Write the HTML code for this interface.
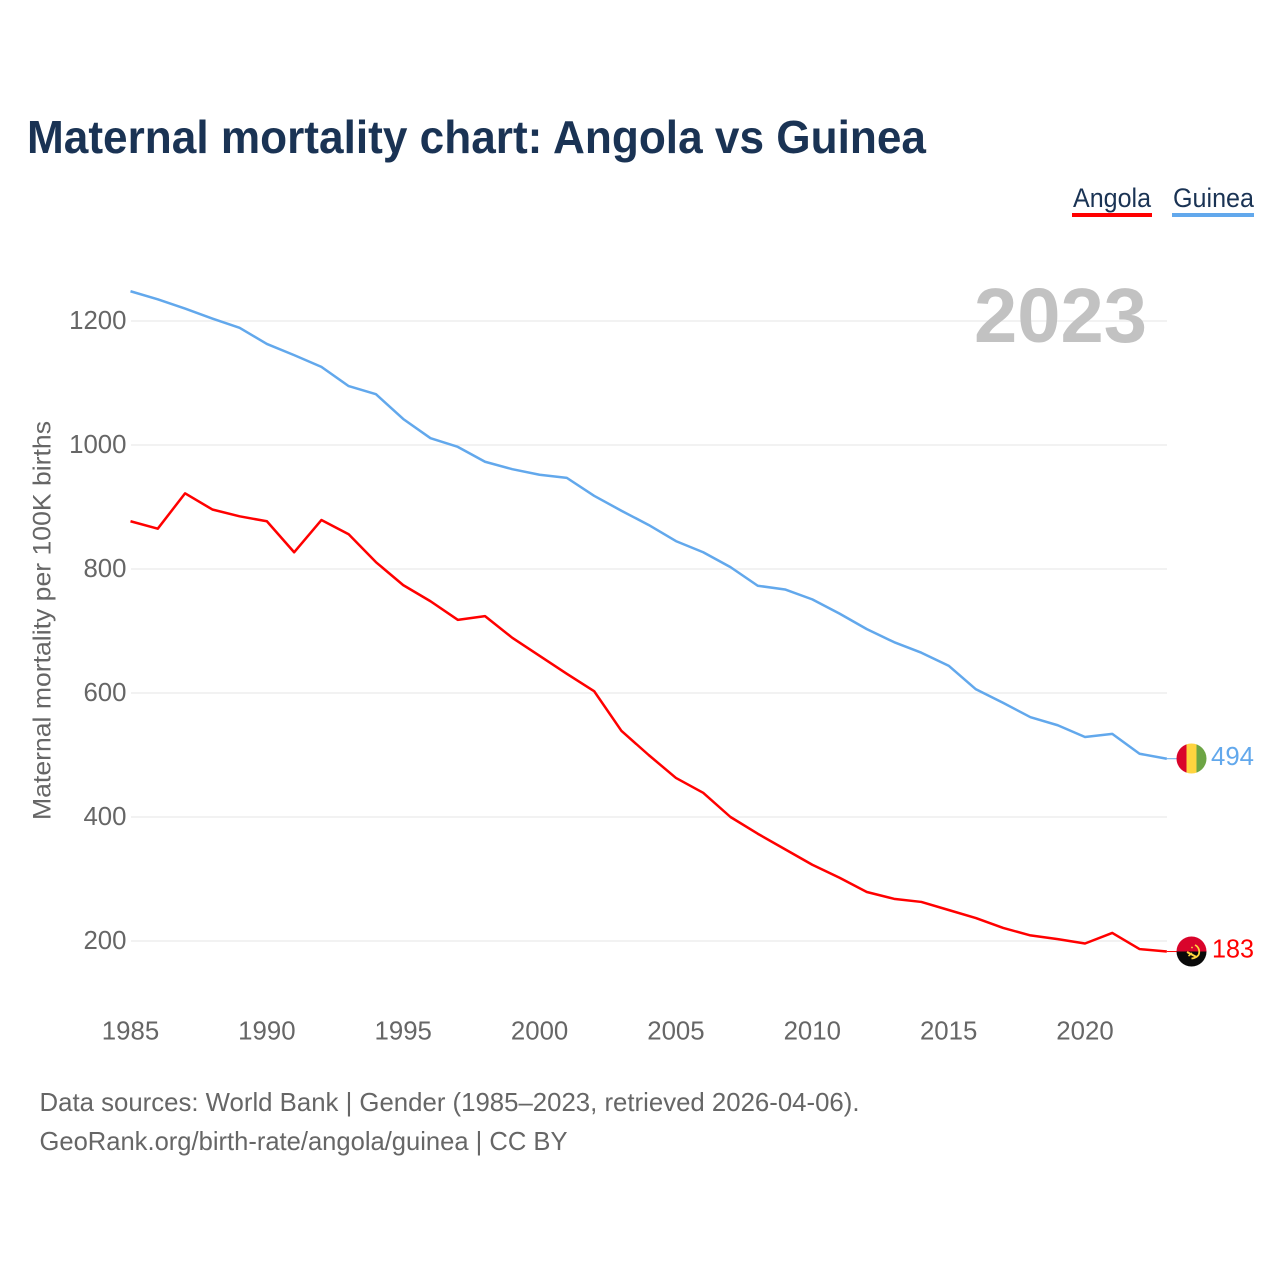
<!DOCTYPE html>
<html lang="en">
<head>
<meta charset="utf-8">
<title>Maternal mortality chart: Angola vs Guinea</title>
<style>
html,body{margin:0;padding:0;background:#fff}
svg{display:block}
text{font-family:"Liberation Sans",sans-serif}
</style>
</head>
<body>
<svg id="chart" width="1280" height="1280" viewBox="0 0 1280 1280" xmlns="http://www.w3.org/2000/svg">
  <defs>
    <clipPath id="flag-clip-guinea"><circle cx="1191.500" cy="758.500" r="15"/></clipPath>
    <clipPath id="flag-clip-angola"><circle cx="1191.500" cy="951.500" r="15"/></clipPath>
  </defs>
  <rect width="1280" height="1280" fill="#fff"/>
  <text x="27" y="153" font-size="46" font-weight="700" fill="#1a3354" textLength="899" lengthAdjust="spacingAndGlyphs">Maternal mortality chart: Angola vs Guinea</text>

  <g id="grid"></g>
  <g id="y-ticks"></g>
  <g id="x-ticks"></g>

  <text transform="translate(50.500,820) rotate(-90)" font-size="25" fill="#666" textLength="399" lengthAdjust="spacingAndGlyphs">Maternal mortality per 100K births</text>
  <text x="974" y="342" font-size="77" font-weight="700" fill="#c2c2c2" textLength="173" lengthAdjust="spacingAndGlyphs">2023</text>

  <g>
    <g>
      <text x="1073" y="207" font-size="27" fill="#1a3354" textLength="78" lengthAdjust="spacingAndGlyphs">Angola</text>
      <rect x="1072" y="213" width="80" height="4" fill="#ff0000"/>
    </g>
    <g>
      <text x="1173" y="207" font-size="27" fill="#1a3354" textLength="81" lengthAdjust="spacingAndGlyphs">Guinea</text>
      <rect x="1172" y="213" width="82" height="4" fill="#62a8ec"/>
    </g>
  </g>

  <g id="series"></g>

  <g id="flag-guinea" clip-path="url(#flag-clip-guinea)">
    <rect x="1176" y="743" width="10.500" height="31" fill="#d9042b"/>
    <rect x="1186.500" y="743" width="10" height="31" fill="#ffd43f"/>
    <rect x="1196.500" y="743" width="10.500" height="31" fill="#6da544"/>
  </g>
  <g id="flag-angola" clip-path="url(#flag-clip-angola)">
    <rect x="1176" y="936" width="31" height="15.500" fill="#d9042b"/>
    <rect x="1176" y="951.500" width="31" height="15.500" fill="#0a0a0a"/>
    <path d="M1195 945a7.500 7.500 0 0 1 3.500 10q-2 3-7 3.500" fill="none" stroke="#ffd43f" stroke-width="1.800"/>
    <path d="M1187 952l9.500 5" fill="none" stroke="#ffd43f" stroke-width="2"/>
    <path d="M1188.500 956l3.500-3" fill="none" stroke="#ffd43f" stroke-width="1.500"/>
    <circle cx="1192" cy="947.500" r="0.900" fill="#ffd43f"/>
  </g>

  <text id="value-guinea" x="1211" y="765" font-size="25.500" fill="#62a8ec" textLength="43" lengthAdjust="spacingAndGlyphs"></text>
  <text id="value-angola" x="1212" y="958" font-size="25.500" fill="#ff0000" textLength="42" lengthAdjust="spacingAndGlyphs"></text>

  <text x="39.500" y="1111" font-size="26" fill="#666" textLength="820" lengthAdjust="spacingAndGlyphs">Data sources: World Bank | Gender (1985–2023, retrieved 2026-04-06).</text>
  <text x="39.500" y="1150" font-size="26" fill="#666" textLength="528" lengthAdjust="spacingAndGlyphs">GeoRank.org/birth-rate/angola/guinea | CC BY</text>
</svg>
<script>
const years = [1985,1986,1987,1988,1989,1990,1991,1992,1993,1994,1995,1996,1997,1998,1999,2000,2001,2002,2003,2004,2005,2006,2007,2008,2009,2010,2011,2012,2013,2014,2015,2016,2017,2018,2019,2020,2021,2022,2023];
const angolaValues = [877,865,922,896,885,877,827,879,856,811,774,748,718,724,689,660,631,603,539,500,463,439,400,373,348,323,302,279,268,263,250,237,221,209,203,196,213,187,183];
const guineaValues = [1248,1235,1220,1204,1189,1163,1145,1126,1095,1082,1042,1011,997,973,961,952,947,918,894,871,845,827,803,773,767,751,728,703,682,665,644,606,584,561,548,529,534,502,494];
const yTickValues = [200,400,600,800,1000,1200];
const xTickValues = [1985,1990,1995,2000,2005,2010,2015,2020];

const NS = 'http://www.w3.org/2000/svg';
const xScale = function (year) { return 130.5 + (year - 1985) * (1085 - 130.5) / 35; };
const yScale = function (value) { return 941 - (value - 200) * 0.62; };

const gridGroup = document.getElementById('grid');
const yTickGroup = document.getElementById('y-ticks');
const xTickGroup = document.getElementById('x-ticks');
const seriesGroup = document.getElementById('series');

yTickValues.forEach(function (value) {
  const line = document.createElementNS(NS, 'line');
  
  
  line.setAttribute('x1', 131);
  line.setAttribute('x2', 1167);
  line.setAttribute('y1', yScale(value));
  line.setAttribute('y2', yScale(value));
  line.setAttribute('stroke', '#eeeeee');
  line.setAttribute('stroke-width', 1.5);
  gridGroup.appendChild(line);

  const label = document.createElementNS(NS, 'text');
  
  
  label.setAttribute('x', 126.5);
  label.setAttribute('y', yScale(value) + 8);
  label.setAttribute('text-anchor', 'end');
  label.setAttribute('font-size', 25.8);
  label.setAttribute('fill', '#666');
  label.textContent = String(value);
  yTickGroup.appendChild(label);
});

xTickValues.forEach(function (year) {
  const label = document.createElementNS(NS, 'text');
  
  
  label.setAttribute('x', xScale(year));
  label.setAttribute('y', 1039.5);
  label.setAttribute('text-anchor', 'middle');
  label.setAttribute('font-size', 25.8);
  label.setAttribute('fill', '#666');
  label.textContent = String(year);
  xTickGroup.appendChild(label);
});

function drawSeries(values, color, seriesName) {
  const points = values.map(function (value, i) {
    return xScale(years[i]).toFixed(2) + ',' + yScale(value).toFixed(2);
  }).join(' ');
  const path = document.createElementNS(NS, 'polyline');
  
  
  path.setAttribute('points', points);
  path.setAttribute('fill', 'none');
  path.setAttribute('stroke', color);
  path.setAttribute('stroke-width', 2.5);
  path.setAttribute('stroke-linejoin', 'round');
  seriesGroup.appendChild(path);

  const lastValue = values[values.length - 1];
  const lastX = xScale(years[years.length - 1]);
  const connector = document.createElementNS(NS, 'line');
  
  
  connector.setAttribute('x1', lastX);
  connector.setAttribute('x2', lastX + 10);
  connector.setAttribute('y1', yScale(lastValue));
  connector.setAttribute('y2', yScale(lastValue));
  connector.setAttribute('stroke', color);
  connector.setAttribute('stroke-width', 1);
  seriesGroup.appendChild(connector);

  const valueLabel = document.getElementById('value-' + seriesName);
  valueLabel.textContent = String(lastValue);
  valueLabel.setAttribute('y', yScale(lastValue) + 6.2);
}

drawSeries(angolaValues, '#ff0000', 'angola');
drawSeries(guineaValues, '#62a8ec', 'guinea');
</script>
</body>
</html>
